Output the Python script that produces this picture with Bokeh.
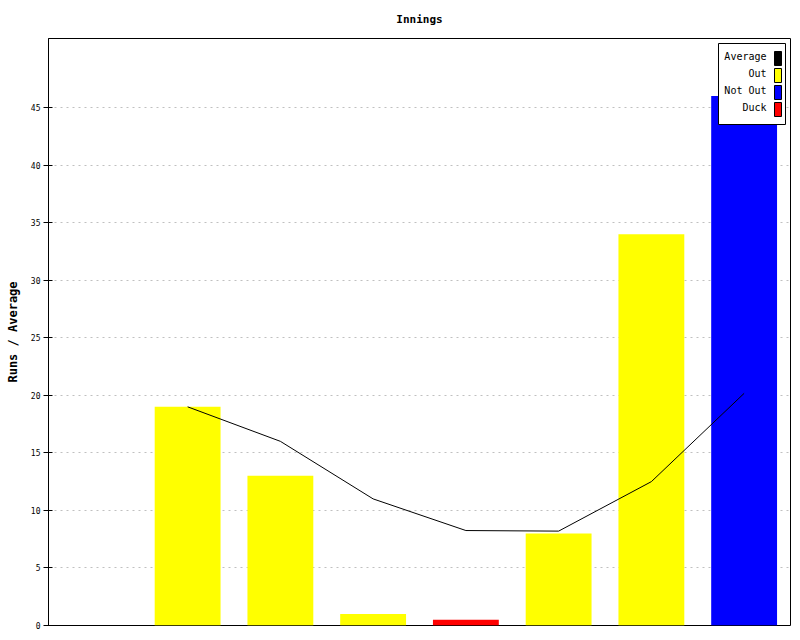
from bokeh.plotting import figure
from bokeh.models import Range1d, FixedTicker, ColumnDataSource
from bokeh.core.properties import value
from bokeh.embed import file_html
from bokeh.resources import INLINE

# ---- data ----
innings = [1, 2, 3, 4, 5, 6, 7]
runs = [19, 13, 1, 0, 8, 34, 46]
status = ["Out", "Out", "Out", "Duck", "Out", "Out", "Not Out"]
average = [19.0, 16.0, 11.0, 8.25, 8.2, 12.5, 20.17]
y_ticks = [0, 5, 10, 15, 20, 25, 30, 35, 40, 45]
legend_labels = ["Average", "Out", "Not Out", "Duck"]

colors = {"Average": "black", "Out": "#ffff00", "Not Out": "#0000ff", "Duck": "#ff0000"}
DUCK_HEIGHT = 0.5

bar_top = [r if r > 0 else DUCK_HEIGHT for r in runs]
bar_color = [colors[s] for s in status]

FW, FH = 742, 587
FL, FT = 48, 38          # frame left / top on the page
X0, X1 = -0.5, 7.5
Y0, Y1 = 0, 51

p = figure(frame_width=FW, frame_height=FH,
           x_range=Range1d(X0, X1), y_range=Range1d(Y0, Y1),
           output_backend="svg", toolbar_location=None,
           title="Innings",
           min_border_left=FL, min_border_top=FT,
           min_border_right=8, min_border_bottom=10)

p.title.align = "center"
p.title.vertical_align = "top"
p.title.text_font = "DejaVu Sans Mono"
p.title.text_font_size = "11px"
p.title.text_font_style = "bold"
p.title.text_color = "black"
p.title.standoff = 22

p.background_fill_color = "white"
p.border_fill_color = "white"
p.outline_line_color = "black"
p.outline_line_width = 1

p.xaxis.visible = False
p.xgrid.visible = False
p.ygrid.grid_line_color = "#c0c0c0"
p.ygrid.grid_line_dash = "2 4"

ya = p.yaxis[0]
ya.ticker = FixedTicker(ticks=y_ticks)
ya.axis_line_color = "black"
ya.major_tick_line_color = "black"
ya.major_tick_out = 5
ya.major_tick_in = 4
ya.minor_tick_line_color = None
ya.major_label_standoff = 3
ya.major_label_text_font = "DejaVu Sans Mono"
ya.major_label_text_font_size = "8px"
ya.major_label_text_color = "black"
ya.axis_label = "Runs / Average"
ya.axis_label_text_font = "DejaVu Sans Mono"
ya.axis_label_text_font_size = "12px"
ya.axis_label_text_font_style = "bold"
ya.axis_label_text_color = "black"
ya.axis_label_standoff = 8

src = ColumnDataSource(dict(x=innings, top=bar_top, color=bar_color))
p.vbar(x="x", top="top", bottom=0, width=0.71, fill_color="color",
       line_color=None, source=src)

p.line(innings, average, line_color="black", line_width=1)

# ---- custom legend (text right-aligned, swatch on the right) ----
def px2x(px):
    return X0 + (px - FL) * (X1 - X0) / FW

def px2y(py):
    return Y0 + (FT + FH - py) * (Y1 - Y0) / FH

p.quad(left=[px2x(718)], right=[px2x(785)], top=[px2y(43)], bottom=[px2y(124)],
       fill_color="white", line_color="black", line_width=1)

row_px = [58 + 17 * i for i in range(len(legend_labels))]
p.quad(left=[px2x(774)] * 4, right=[px2x(781)] * 4,
       top=[px2y(r - 7) for r in row_px], bottom=[px2y(r + 7) for r in row_px],
       fill_color=[colors[l] for l in legend_labels], line_color="black", line_width=1)
p.text(x=[px2x(766)] * 4, y=[px2y(r - 2) for r in row_px], text=legend_labels,
       text_align="right", text_baseline="middle",
       text_font=value("DejaVu Sans Mono"), text_font_size="10px", text_color="black")

open("out.html", "w").write(file_html(p, INLINE))
